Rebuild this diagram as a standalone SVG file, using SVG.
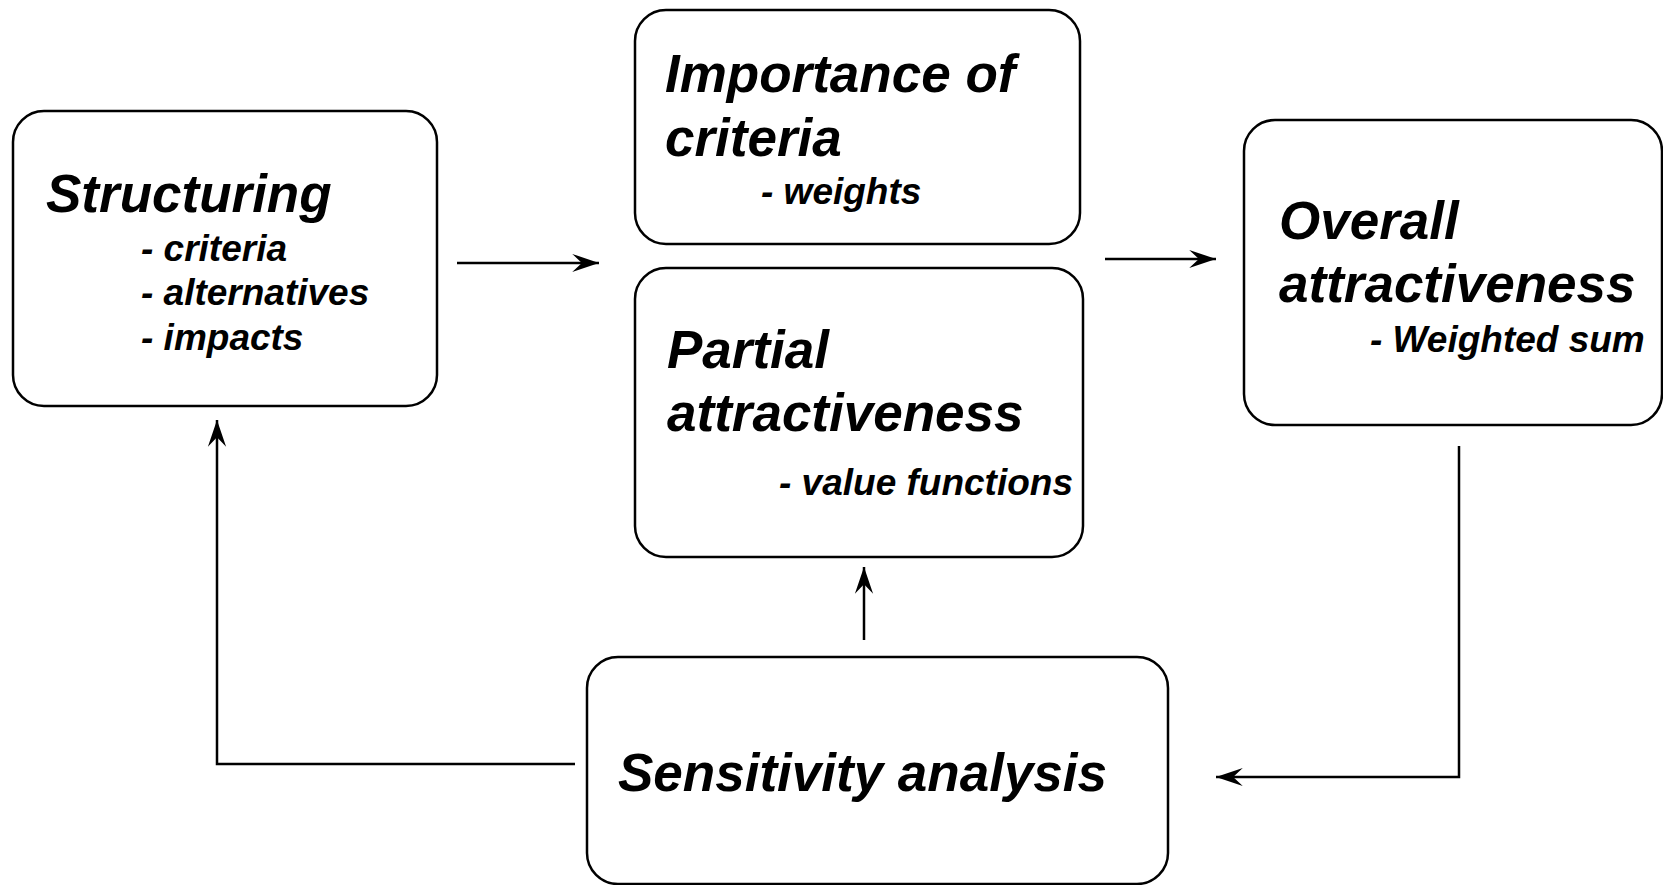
<svg xmlns="http://www.w3.org/2000/svg" width="1663" height="885" viewBox="0 0 1663 885">
  <style>
    .box { fill: #ffffff; stroke: #000000; stroke-width: 2.5; }
    .title { font-family: "Liberation Sans", Arial, sans-serif; font-weight: bold; font-style: italic; font-size: 53px; fill: #000000; }
    .sub { font-family: "Liberation Sans", Arial, sans-serif; font-weight: bold; font-style: italic; font-size: 37px; fill: #000000; }
    .link { fill: none; stroke: #000000; stroke-width: 2.5; marker-end: url(#arrow); }
  </style>
  <defs>
    <marker id="arrow" markerUnits="userSpaceOnUse" markerWidth="30" markerHeight="20" viewBox="-26 -9 28 18" refX="0" refY="0" orient="auto">
      <path d="M0,0 L-25,-8.5 L-16,0 L-25,8.5 Z" fill="#000000"/>
    </marker>
  </defs>
  <rect width="1663" height="885" fill="#ffffff"/>

  <g id="node-structuring">
    <rect class="box" x="13" y="111" width="424" height="295" rx="31" ry="31"/>
    <text class="title" x="46" y="212">Structuring</text>
    <text class="sub" x="141" y="261">- criteria</text>
    <text class="sub" x="141" y="305">- alternatives</text>
    <text class="sub" x="141" y="350">- impacts</text>
  </g>

  <g id="node-importance">
    <rect class="box" x="635" y="10" width="445" height="234" rx="31" ry="31"/>
    <text class="title" x="665" y="92">Importance of</text>
    <text class="title" x="665" y="156">criteria</text>
    <text class="sub" x="761" y="204">- weights</text>
  </g>

  <g id="node-partial">
    <rect class="box" x="635" y="268" width="448" height="289" rx="31" ry="31"/>
    <text class="title" x="667" y="368">Partial</text>
    <text class="title" x="667" y="431">attractiveness</text>
    <text class="sub" x="779" y="495">- value functions</text>
  </g>

  <g id="node-overall">
    <rect class="box" x="1244" y="120" width="418" height="305" rx="31" ry="31"/>
    <text class="title" x="1279" y="239">Overall</text>
    <text class="title" x="1279" y="302">attractiveness</text>
    <text class="sub" x="1370" y="352">- Weighted sum</text>
  </g>

  <g id="node-sensitivity">
    <rect class="box" x="587" y="657" width="581" height="227" rx="31" ry="31"/>
    <text class="title" x="618" y="791">Sensitivity analysis</text>
  </g>

  <g id="connectors">
    <path class="link" d="M457,263 H599"/>
    <path class="link" d="M1105,259 H1216"/>
    <path class="link" d="M1459,446 V777 H1216"/>
    <path class="link" d="M575,764 H217 V420"/>
    <path class="link" d="M864,640 V567"/>
  </g>
</svg>
